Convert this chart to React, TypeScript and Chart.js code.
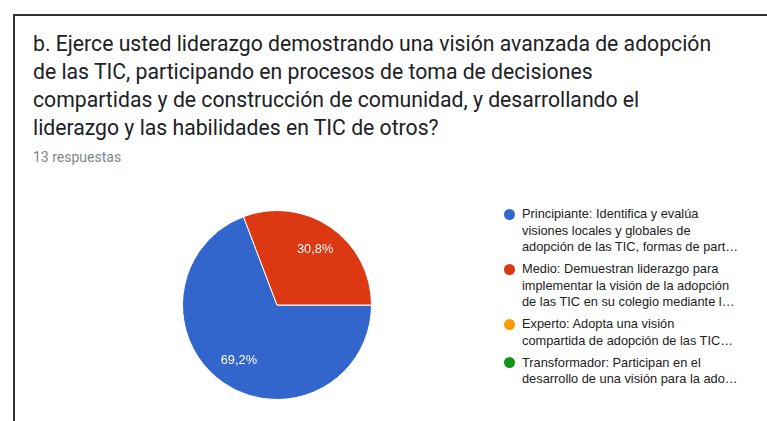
import React, { useEffect, useRef } from "react";
import { Chart, registerables } from "chart.js";

Chart.register(...registerables);

const titleText =
  "b. Ejerce usted liderazgo demostrando una visión avanzada de adopción de las TIC, participando en procesos de toma de decisiones compartidas y de construcción de comunidad, y desarrollando el liderazgo y las habilidades en TIC de otros?";
const titleLines = [
  "b. Ejerce usted liderazgo demostrando una visión avanzada de adopción",
  "de las TIC, participando en procesos de toma de decisiones",
  "compartidas y de construcción de comunidad, y desarrollando el",
  "liderazgo y las habilidades en TIC de otros?",
];
const subtitle = "13 respuestas";

const legendLines: string[][] = [
  ["Principiante: Identifica y evalúa", "visiones locales y globales de", "adopción de las TIC, formas de part…"],
  ["Medio: Demuestran liderazgo para", "implementar la visión de la adopción", "de las TIC en su colegio mediante l…"],
  ["Experto: Adopta una visión", "compartida de adopción de las TIC…"],
  ["Transformador: Participan en el", "desarrollo de una visión para la ado…"],
];
const categories = legendLines.map((l) => l.join(" "));
const responses = [9, 4, 0, 0];
const colors = ["#3366cc", "#dc3912", "#ff9900", "#109618"];

const pieLabels = {
  id: "pieLabels",
  afterDatasetsDraw(chart: any) {
    const ctx = chart.ctx;
    const meta = chart.getDatasetMeta(0);
    const data = chart.data.datasets[0].data as number[];
    const total = data.reduce((a, b) => a + b, 0);
    ctx.save();
    ctx.font = "12.8px 'Liberation Sans', Arial, sans-serif";
    ctx.fillStyle = "#ffffff";
    ctx.textAlign = "center";
    ctx.textBaseline = "middle";
    meta.data.forEach((arc: any, i: number) => {
      const v = data[i];
      if (!v) return;
      const p = arc.getProps(["x", "y", "startAngle", "endAngle", "outerRadius"], true);
      const mid = (p.startAngle + p.endAngle) / 2;
      const r = p.outerRadius * 0.71;
      const txt = ((v / total) * 100).toFixed(1).replace(".", ",") + "%";
      ctx.fillText(txt, p.x + Math.cos(mid) * r, p.y + Math.sin(mid) * r);
    });
    ctx.restore();
  },
};

export default function App() {
  const ref = useRef<HTMLCanvasElement | null>(null);
  useEffect(() => {
    if (!ref.current) return;
    const chart = new Chart(ref.current, {
      type: "pie",
      data: {
        labels: categories,
        datasets: [
          {
            data: responses,
            backgroundColor: colors,
            borderColor: "#ffffff",
            borderWidth: 1,
          },
        ],
      },
      options: {
        animation: false,
        responsive: false,
        rotation: 90,
        layout: { padding: 0 },
        plugins: {
          legend: { display: false },
          tooltip: { enabled: false },
        },
      },
      plugins: [pieLabels],
    });
    return () => chart.destroy();
  }, []);

  return (
    <div
      style={{
        position: "fixed",
        left: 0,
        top: 0,
        width: 767,
        height: 421,
        background: "#fff",
        overflow: "hidden",
      }}
      aria-label={titleText}
    >
      <div
        style={{
          position: "absolute",
          left: 13,
          top: 14,
          right: -2,
          bottom: -2,
          borderLeft: "2px solid #333",
          borderTop: "2px solid #333",
        }}
      />
      <div
        style={{
          position: "absolute",
          left: 33,
          top: 30,
          fontFamily: "Roboto, sans-serif",
          fontSize: 21.2,
          lineHeight: "28px",
          color: "#202124",
          whiteSpace: "nowrap",
        }}
      >
        {titleLines.map((l, i) => (
          <div key={i}>{l}</div>
        ))}
      </div>
      <div
        style={{
          position: "absolute",
          left: 33,
          top: 148,
          fontFamily: "Roboto, sans-serif",
          fontSize: 14,
          lineHeight: "18px",
          color: "#80868b",
        }}
      >
        {subtitle}
      </div>
      <canvas
        ref={ref}
        width={190}
        height={190}
        style={{ position: "absolute", left: 182, top: 210, width: 190, height: 190 }}
      />
      <div
        style={{
          position: "absolute",
          left: 503,
          top: 206,
          fontFamily: "'Liberation Sans', Arial, sans-serif",
          fontSize: 12.8,
          lineHeight: "16.5px",
          color: "#222222",
        }}
      >
        {legendLines.map((lines, i) => (
          <div key={i} style={{ position: "relative", paddingLeft: 19, marginBottom: 5.5 }}>
            <span
              style={{
                position: "absolute",
                left: 1,
                top: 2.5,
                width: 11,
                height: 11,
                borderRadius: "50%",
                background: colors[i],
              }}
            />
            {lines.map((t, j) => (
              <div key={j} style={{ whiteSpace: "nowrap" }}>
                {t}
              </div>
            ))}
          </div>
        ))}
      </div>
    </div>
  );
}
